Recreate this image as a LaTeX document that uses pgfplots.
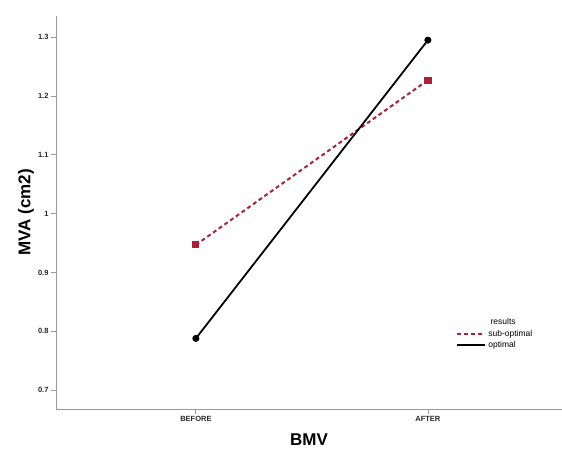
\documentclass[border=0pt]{standalone}
\usepackage{pgfplots}
\pgfplotsset{compat=1.18}
\usepackage{fontspec}
\setmainfont{Liberation Sans}
\definecolor{subopt}{HTML}{A8233A}
\definecolor{axgray}{HTML}{9A9A9A}
\begin{document}
\begin{tikzpicture}
\begin{axis}[
    scale only axis,
    width=506pt, height=393pt,
    xmin=-0.603, xmax=1.578,
    ymin=0.668, ymax=1.336,
    axis x line=bottom, axis y line=left,
    axis line style={-, draw=axgray, line width=0.9pt},
    tick align=outside,
    major tick length=5pt,
    tick style={axgray, line width=0.8pt},
    xtick={0,1}, xticklabels={BEFORE, AFTER},
    ytick={0.7,0.8,0.9,1,1.1,1.2,1.3},
    yticklabels={0.7,0.8,0.9,1,1.1,1.2,1.3},
    ticklabel style={font=\fontsize{7.5}{9}\selectfont\bfseries, text=black!85},
    xticklabel style={yshift=1pt},
    yticklabel style={xshift=1pt},
    xlabel={BMV}, ylabel={MVA (cm2)},
    label style={font=\fontsize{17}{20}\selectfont\bfseries},
    xlabel style={at={(rel axis cs:0.5,0)}, anchor=base, yshift=-37pt},
    ylabel style={at={(rel axis cs:0,0.5)}, anchor=center, yshift=30pt},
    legend cell align=left,
    legend style={draw=none, fill=none, font=\fontsize{8.5}{10}\selectfont,
        at={(rel axis cs:0.785,0.21)}, anchor=north west, row sep=-1pt},
    legend image code/.code={\draw[#1] (0pt,0pt) -- (28pt,0pt);},
    clip=false,
]
% sub-optimal
\addplot[color=subopt, line width=2pt, dash pattern=on 4pt off 3pt,
    mark=square*, mark size=2.6pt, mark options={solid}] coordinates {
    (0, 0.947)
    (1, 1.227)
};
% optimal
\addplot[color=black, line width=1.8pt, mark=*, mark size=2.6pt] coordinates {
    (0, 0.788)
    (1, 1.295)
};
\legend{sub-optimal, optimal}
\node[font=\fontsize{8.5}{10}\selectfont, anchor=base west] at (rel axis cs:0.852,0.215) {results};
\coordinate (bl) at (rel axis cs:0,0);
\coordinate (tr) at (rel axis cs:1,1);
\end{axis}
\pgfresetboundingbox
\path[use as bounding box] ([shift={(-56pt,-40pt)}]bl) rectangle ([shift={(0pt,16pt)}]tr);
\end{tikzpicture}
\end{document}
